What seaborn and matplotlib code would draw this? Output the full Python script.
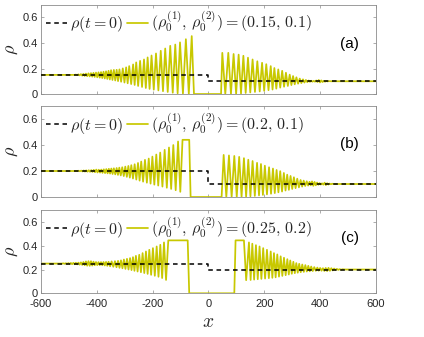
import numpy as np
import pandas as pd
import seaborn as sns
import matplotlib
matplotlib.use("Agg")
import matplotlib.pyplot as plt

sns.set_theme(style="ticks")
plt.rcParams['font.family'] = ['Liberation Sans', 'DejaVu Sans']
plt.rcParams['mathtext.fontset'] = 'cm'

panels = ["a", "b", "c"]
rho0_left = [0.15, 0.2, 0.25]
rho0_right = [0.1, 0.1, 0.2]
legend_vals = ["(0.15,\\,0.1)", "(0.2,\\,0.1)", "(0.25,\\,0.2)"]

x_ticks = [-600, -400, -200, 0, 200, 400, 600]
x_ticklabels = ["-600", "-400", "-200", "0", "200", "400", "600"]
y_ticks = [0, 0.2, 0.4, 0.6]
y_ticklabels = ["0", "0.2", "0.4", "0.6"]

# ---- panel (a) ----
a_head = ([-600, -480], [0.15, 0.15])
a_lpk_x = [-475, -466, -457, -448, -439, -430, -421, -412, -403, -394, -385, -376, -367, -358, -349, -339, -329, -319,
           -307, -295, -284, -270, -259, -245, -231, -218, -204, -188, -171, -155, -137, -119, -102, -81, -60]
a_lpk_y = [0.152, 0.154, 0.156, 0.158, 0.160, 0.162, 0.164, 0.166, 0.168, 0.170, 0.172, 0.175, 0.178, 0.182, 0.187,
           0.189, 0.190, 0.193, 0.201, 0.209, 0.219, 0.232, 0.248, 0.260, 0.271, 0.287, 0.302, 0.318, 0.339, 0.357,
           0.378, 0.388, 0.405, 0.430, 0.454]
a_ltr_y = [0.148, 0.146, 0.144, 0.142, 0.140, 0.138, 0.136, 0.134, 0.131, 0.128, 0.125, 0.122, 0.118, 0.114, 0.110,
           0.106, 0.101, 0.096, 0.090, 0.084, 0.078, 0.071, 0.063, 0.055, 0.047, 0.040, 0.034, 0.028, 0.022, 0.016,
           0.010, 0.006, 0.003, 0.001]
a_gap = ([-52, 45], [0.0, 0.0])
a_rpk_x = [49.5, 71, 90, 108, 125, 141.5, 158, 175, 192, 207, 223, 236, 250, 264, 277.5, 291, 303, 315, 327, 338.5,
           349, 359, 368, 377, 386, 395, 404, 413, 422, 431]
a_rpk_y = [0.323, 0.323, 0.314, 0.309, 0.300, 0.285, 0.271, 0.257, 0.245, 0.234, 0.219, 0.204, 0.193, 0.182, 0.167,
           0.152, 0.141, 0.131, 0.121, 0.115, 0.110, 0.106, 0.104, 0.103, 0.106, 0.110, 0.107, 0.103, 0.102, 0.101]
a_rtr_y = [0.0, 0.0, 0.0, 0.003, 0.008, 0.012, 0.016, 0.020, 0.025, 0.030, 0.035, 0.042, 0.050, 0.057, 0.063,
           0.070, 0.076, 0.081, 0.086, 0.090, 0.093, 0.096, 0.097, 0.097, 0.094, 0.091, 0.094, 0.097, 0.099]
a_tail = ([440, 600], [0.1, 0.1])

# ---- panel (b) ----
b_head = ([-600, -470], [0.2, 0.2])
b_lpk_x = [-465, -456, -447, -438, -429, -420, -411, -402, -393, -384, -375, -366, -357, -348, -339, -329, -319.5,
           -309, -298, -287, -276.5, -264.5, -252.5, -241, -227.5, -214, -201, -187, -173, -157, -141.5, -126, -109]
b_lpk_y = [0.202, 0.203, 0.204, 0.205, 0.206, 0.207, 0.209, 0.211, 0.210, 0.211, 0.213, 0.215, 0.217, 0.219, 0.221,
           0.223, 0.226, 0.229, 0.234, 0.239, 0.245, 0.252, 0.262, 0.273, 0.286, 0.296, 0.311, 0.327, 0.342, 0.363,
           0.381, 0.400, 0.427]
b_ltr_y = [0.198, 0.197, 0.196, 0.195, 0.194, 0.193, 0.191, 0.189, 0.188, 0.186, 0.184, 0.182, 0.180, 0.177, 0.174,
           0.170, 0.166, 0.161, 0.155, 0.149, 0.142, 0.134, 0.126, 0.118, 0.110, 0.103, 0.095, 0.088, 0.080, 0.071,
           0.062, 0.052]
b_gap = ([-101, -93, -69, -64, 47], [0.04, 0.44, 0.44, 0.0, 0.0])
b_rpk_x = [54.4, 73.4, 92.5, 110, 127, 142.6, 158, 174, 188, 202, 217, 231, 244, 257, 270, 282, 294, 306, 318, 330,
           341, 352, 362, 371, 380, 389, 398, 407, 416, 425, 434, 443]
b_rpk_y = [0.324, 0.320, 0.316, 0.309, 0.299, 0.287, 0.277, 0.263, 0.254, 0.241, 0.229, 0.219, 0.208, 0.199, 0.185,
           0.172, 0.162, 0.152, 0.141, 0.131, 0.126, 0.121, 0.117, 0.120, 0.116, 0.111, 0.107, 0.105, 0.110, 0.106,
           0.103, 0.102]
b_rtr_y = [0.0, 0.0, 0.0, 0.0, 0.002, 0.005, 0.008, 0.012, 0.016, 0.020, 0.025, 0.030, 0.036, 0.042, 0.050,
           0.055, 0.062, 0.068, 0.074, 0.080, 0.085, 0.088, 0.090, 0.086, 0.090, 0.094, 0.096, 0.095, 0.092, 0.096,
           0.098]
b_tail = ([450, 600], [0.1, 0.1])

# ---- panel (c) ----
c_head = ([-600, -525], [0.25, 0.25])
c_lpk_x = [-520, -511, -502, -493, -484, -475, -466, -457, -448, -439, -430, -421, -412, -403, -394, -385, -376, -367,
           -358, -347, -335, -324, -313.5, -303, -292, -281, -270.5, -260, -248, -236, -224, -212, -199, -185.6,
           -172.6, -159.4]
c_lpk_y = [0.252, 0.253, 0.254, 0.255, 0.256, 0.257, 0.258, 0.260, 0.263, 0.268, 0.270, 0.270, 0.266, 0.263, 0.262,
           0.262, 0.263, 0.264, 0.265, 0.268, 0.270, 0.273, 0.277, 0.284, 0.290, 0.296, 0.304, 0.315, 0.324, 0.338,
           0.352, 0.366, 0.380, 0.394, 0.408, 0.428]
c_ltr_y = [0.248, 0.247, 0.246, 0.245, 0.244, 0.243, 0.241, 0.239, 0.236, 0.232, 0.231, 0.233, 0.236, 0.237, 0.237,
           0.236, 0.234, 0.231, 0.227, 0.223, 0.219, 0.214, 0.210, 0.205, 0.200, 0.195, 0.189, 0.183, 0.177, 0.170,
           0.163, 0.155, 0.147, 0.139, 0.128]
c_gap = ([-152, -144, -74.5, -69, 92.5, 97, 127, 135], [0.112, 0.445, 0.445, 0.0, 0.0, 0.445, 0.445, 0.11])
c_rpk_x = [145, 157, 170, 183, 196, 209.5, 223, 234.6, 246.5, 258.6, 270.5, 282.5, 293, 304, 314.6, 325, 336, 347,
           357.6, 368, 379, 390, 400, 410, 420, 430, 440, 450, 460, 470, 480]
c_rpk_y = [0.428, 0.417, 0.405, 0.394, 0.380, 0.366, 0.352, 0.338, 0.327, 0.311, 0.299, 0.287, 0.276, 0.265, 0.254,
           0.248, 0.242, 0.237, 0.231, 0.225, 0.220, 0.216, 0.213, 0.211, 0.213, 0.214, 0.211, 0.208, 0.205, 0.203,
           0.202]
c_rtr_y = [0.112, 0.115, 0.118, 0.121, 0.124, 0.127, 0.130, 0.134, 0.140, 0.146, 0.152, 0.158, 0.164, 0.169, 0.173,
           0.177, 0.180, 0.183, 0.185, 0.187, 0.189, 0.190, 0.190, 0.188, 0.187, 0.189, 0.192, 0.195, 0.197, 0.198]
c_tail = ([490, 600], [0.2, 0.2])


def zigzag(px, peak, trough):
    xs, ys = [], []
    for i in range(len(px)):
        xs.append(px[i])
        ys.append(peak[i])
        if i < len(trough):
            xs.append((px[i] + px[i + 1]) / 2)
            ys.append(trough[i])
    return xs, ys


def trace(head, left, gap, right, tail):
    lx, ly = zigzag(*left)
    rx, ry = zigzag(*right)
    xs = head[0] + lx + gap[0] + rx + tail[0]
    ys = head[1] + ly + gap[1] + ry + tail[1]
    return xs, ys


curves = {
    "a": trace(a_head, (a_lpk_x, a_lpk_y, a_ltr_y), a_gap, (a_rpk_x, a_rpk_y, a_rtr_y), a_tail),
    "b": trace(b_head, (b_lpk_x, b_lpk_y, b_ltr_y), b_gap, (b_rpk_x, b_rpk_y, b_rtr_y), b_tail),
    "c": trace(c_head, (c_lpk_x, c_lpk_y, c_ltr_y), c_gap, (c_rpk_x, c_rpk_y, c_rtr_y), c_tail),
}

rows = []
for p in panels:
    xs, ys = curves[p]
    for i in range(len(xs)):
        rows.append({"panel": p, "order": i, "x": xs[i], "rho": ys[i]})
df = pd.DataFrame(rows)

init_rows = []
for i, p in enumerate(panels):
    for j, (xx, yy) in enumerate(zip([-600, 0, 0, 600],
                                     [rho0_left[i], rho0_left[i], rho0_right[i], rho0_right[i]])):
        init_rows.append({"panel": p, "order": j, "x": xx, "rho": yy})
df0 = pd.DataFrame(init_rows)

olive = "#c8c800"
spine_c = "#8c8c8c"
text_c = "#262626"

fig = plt.figure(figsize=(4.24, 3.37), dpi=100)
boxes = [[0.0967, 0.721, 0.790, 0.265],
         [0.0967, 0.4154, 0.790, 0.270],
         [0.0967, 0.1297, 0.790, 0.247]]
tag_y = [0.56, 0.58, 0.66]

for i, p in enumerate(panels):
    ax = fig.add_axes(boxes[i])
    sns.lineplot(data=df[df.panel == p], x="x", y="rho", sort=False, estimator=None,
                 color=olive, lw=1.25, ax=ax, zorder=2)
    sns.lineplot(data=df0[df0.panel == p], x="x", y="rho", sort=False, estimator=None,
                 color="black", lw=1.1, ax=ax, zorder=3)
    ax.lines[1].set_dashes((3, 2.4))
    ax.set_xlim(-600, 600)
    ax.set_ylim(0, 0.7)
    ax.set_xticks(x_ticks)
    ax.set_yticks(y_ticks)
    ax.set_yticklabels(y_ticklabels)
    if i == 2:
        ax.set_xticklabels(x_ticklabels)
        ax.set_xlabel(r"$x$", fontsize=14, color=text_c)
        ax.xaxis.set_label_coords(0.5, -0.25)
    else:
        ax.set_xticklabels([])
        ax.set_xlabel("")
    ax.set_ylabel(r"$\rho$", fontsize=13, color=text_c)
    ax.yaxis.set_label_coords(-0.062, 0.5)
    ax.tick_params(axis="y", direction="in", right=True, length=2.5, width=0.5,
                   color=spine_c, labelcolor=text_c, labelsize=8, pad=2.5)
    ax.tick_params(axis="x", direction="in", top=True, length=2.5, width=0.5,
                   color=spine_c, labelcolor=text_c, labelsize=8, pad=4)
    for s in ax.spines.values():
        s.set_color(spine_c)
        s.set_linewidth(0.6)
    ax.legend(handles=[ax.lines[1], ax.lines[0]],
              labels=[r"$\rho(t=0)$", r"$(\rho_0^{(1)},\,\rho_0^{(2)})=" + legend_vals[i] + "$"],
              ncol=2, loc="upper left", frameon=False, fontsize=11.5,
              handlelength=1.3, handletextpad=0.2, columnspacing=0.3,
              borderaxespad=0.1, borderpad=0.2)
    ax.text(0.922, tag_y[i], "(" + p + ")", transform=ax.transAxes, fontsize=11,
            ha="center", va="center", color="black")

fig.savefig("out.png", dpi=100)
